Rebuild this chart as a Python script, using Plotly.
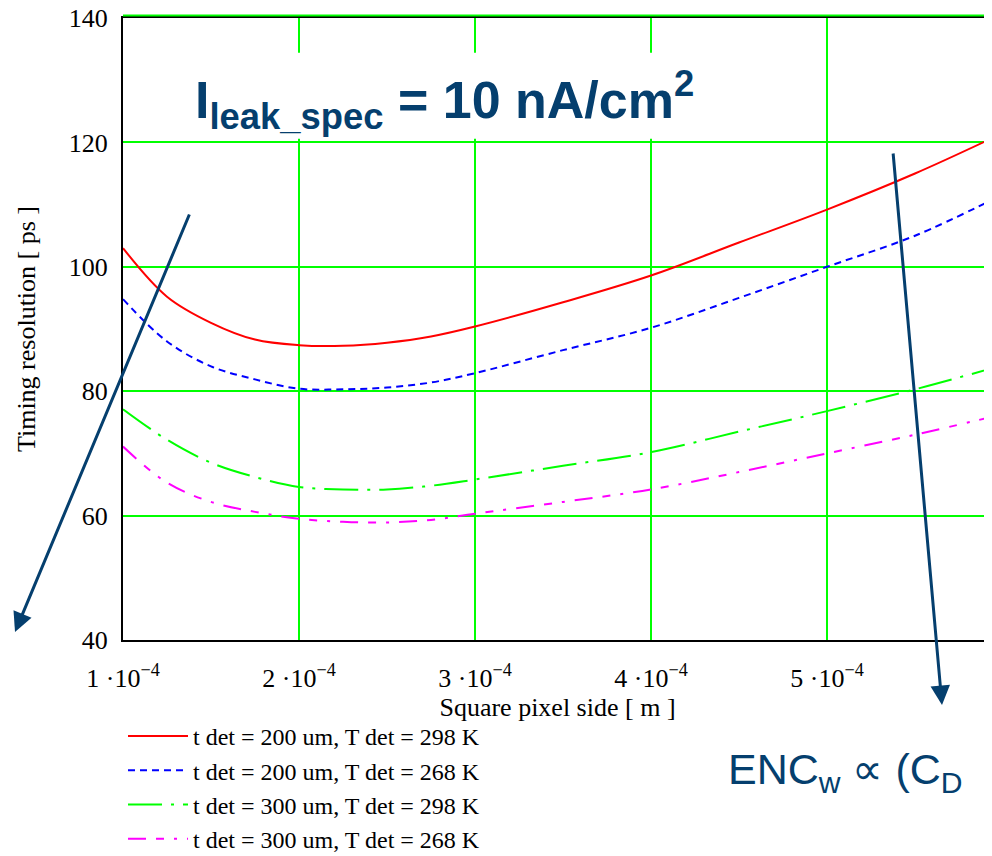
import plotly.graph_objects as go

# ---- data ----
pixel_side_m = [1.0e-4, 1.25e-4, 1.5e-4, 1.75e-4, 2.0e-4, 2.25e-4, 2.5e-4, 2.75e-4,
                3.0e-4, 3.5e-4, 4.0e-4, 4.5e-4, 5.0e-4, 5.5e-4, 5.94e-4]

res_200um_298K = [103.0, 95.2, 91.0, 88.3, 87.4, 87.3, 87.8, 88.8,
                  90.4, 94.3, 98.6, 103.9, 109.2, 115.0, 120.7]
res_200um_268K = [94.8, 88.0, 84.0, 81.9, 80.4, 80.3, 80.6, 81.4,
                  82.9, 86.6, 90.2, 95.0, 100.0, 105.0, 110.8]
res_300um_298K = [77.1, 72.2, 68.5, 66.2, 64.6, 64.2, 64.2, 64.8,
                  65.8, 68.0, 70.2, 73.5, 76.8, 80.3, 83.7]
res_300um_268K = [71.1, 65.3, 62.2, 60.6, 59.5, 59.0, 58.9, 59.3,
                  60.3, 62.2, 64.2, 67.0, 70.0, 73.0, 75.9]

series_names = ["t det = 200 um, T det = 298 K",
                "t det = 200 um, T det = 268 K",
                "t det = 300 um, T det = 298 K",
                "t det = 300 um, T det = 268 K"]

x_tick_vals = [1e-4, 2e-4, 3e-4, 4e-4, 5e-4]
x_tick_text = ["1 ·10<sup>−4</sup>", "2 ·10<sup>−4</sup>", "3 ·10<sup>−4</sup>",
               "4 ·10<sup>−4</sup>", "5 ·10<sup>−4</sup>"]
y_tick_vals = [40, 60, 80, 100, 120, 140]

# ---- styles ----
colors = ["#ff0000", "#0000ff", "#00ff00", "#ff00ff"]
dashes = ["solid", "7px,5px", "34px,9px,3px,9px", "18px,10px,8px,10px,3px,10px"]
navy = "#053f6e"
serif = "Liberation Serif, Times New Roman, serif"
sans = "Liberation Sans, Arial, sans-serif"

fig = go.Figure()
for name, ys, c, d in zip(series_names,
                          [res_200um_298K, res_200um_268K, res_300um_298K, res_300um_268K],
                          colors, dashes):
    fig.add_trace(go.Scatter(x=pixel_side_m, y=ys, mode="lines", name=name,
                             line=dict(color=c, width=2, dash=d, shape="spline", smoothing=1.0)))

# page has an 8px body margin, so the figure is 984x848 and offsets are shifted by 8px
fig.update_layout(
    width=984, height=848,
    margin=dict(l=115, r=0, t=10, b=216, autoexpand=False),
    paper_bgcolor="white", plot_bgcolor="white",
    showlegend=True,
    legend=dict(x=0, y=-0.119, xanchor="left", yanchor="top",
                font=dict(family=serif, size=24, color="black"),
                bgcolor="rgba(0,0,0,0)", itemwidth=60),
    xaxis=dict(range=[1e-4, 5.9375e-4], tickvals=x_tick_vals, ticktext=x_tick_text,
               showgrid=True, gridcolor="#00ff00", gridwidth=2, zeroline=False,
               showline=True, linecolor="black", linewidth=2, mirror=True,
               ticks="", ticklabelstandoff=14,
               tickfont=dict(family=serif, size=26, color="black"),
               title=dict(text="Square pixel side [ m ]", standoff=0,
                          font=dict(family=serif, size=26, color="black"))),
    yaxis=dict(range=[40, 140], tickvals=y_tick_vals,
               showgrid=True, gridcolor="#00ff00", gridwidth=2, zeroline=False,
               showline=True, linecolor="black", linewidth=2,
               ticks="", ticklabelstandoff=8, ticklabeloverflow="allow",
               tickfont=dict(family=serif, size=26, color="black"),
               title=dict(text="Timing resolution [ ps ]", standoff=26,
                          font=dict(family=serif, size=26, color="black"))),
    shapes=[
        dict(type="rect", xref="x", yref="y", x0=1.125e-4, x1=4.477e-4, y0=120.6, y1=134.4,
             fillcolor="white", line=dict(width=0), layer="above"),
        dict(type="line", xref="paper", yref="paper", x0=0, x1=1, y0=1.004, y1=1.004,
             line=dict(color="#00ff00", width=2)),
    ],
    annotations=[
        dict(xref="paper", yref="paper", x=0.0806, y=0.868, xanchor="left", yanchor="middle",
             text="<b>I<sub>leak_spec</sub> = 10 nA/cm<sup>2</sup></b>", showarrow=False,
             font=dict(family=sans, size=52, color=navy)),
        dict(xref="paper", yref="paper", x=(15 - 123) / 869, y=1 - (632 - 18) / 622,
             ax=175, ay=-419, text="", showarrow=True,
             arrowhead=2, arrowsize=1.3, arrowwidth=3, arrowcolor=navy),
        dict(xref="paper", yref="paper", x=(942 - 123) / 869, y=1 - (705 - 18) / 622,
             ax=-49, ay=-553, text="", showarrow=True,
             arrowhead=2, arrowsize=1.3, arrowwidth=3, arrowcolor=navy),
        dict(xref="paper", yref="paper", x=(726 - 123) / 869, y=1 - (772 - 18) / 622,
             xanchor="left", yanchor="middle",
             text="ENC<sub>w</sub> ∝ (C<sub>D</sub>", showarrow=False,
             font=dict(family=sans, size=43, color=navy)),
    ],
)

fig.write_html("out.html")
